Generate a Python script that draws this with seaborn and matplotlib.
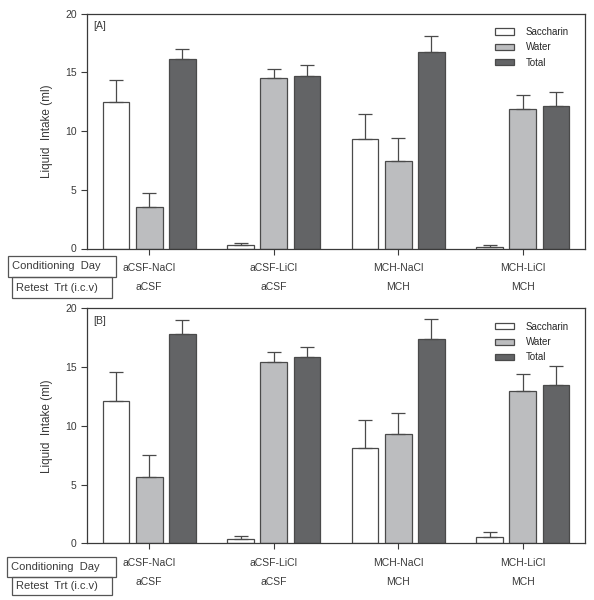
import numpy as np
import pandas as pd
import matplotlib
matplotlib.use("Agg")
import matplotlib.pyplot as plt
import seaborn as sns
from matplotlib.patches import Rectangle

conditioning = ["aCSF-NaCl", "aCSF-LiCl", "MCH-NaCl", "MCH-LiCl"]
retest = ["aCSF", "aCSF", "MCH", "MCH"]
fluids = ["Saccharin", "Water", "Total"]
colors = ["#ffffff", "#bcbdbf", "#636466"]

# panel A: means and upper error (ml)
a_saccharin = [12.45, 0.26, 9.3, 0.17]
a_water = [3.56, 14.48, 7.45, 11.9]
a_total = [16.1, 14.68, 16.73, 12.1]
a_saccharin_err = [1.86, 0.2, 2.17, 0.17]
a_water_err = [1.13, 0.8, 1.94, 1.17]
a_total_err = [0.9, 0.91, 1.39, 1.22]

# panel B
b_saccharin = [12.12, 0.37, 8.11, 0.57]
b_water = [5.66, 15.45, 9.3, 12.92]
b_total = [17.84, 15.82, 17.41, 13.49]
b_saccharin_err = [2.42, 0.28, 2.42, 0.43]
b_water_err = [1.85, 0.85, 1.77, 1.5]
b_total_err = [1.16, 0.88, 1.71, 1.62]

sns.set_style("ticks")
plt.rcParams["font.family"] = ["Liberation Sans", "DejaVu Sans"]

ink = "#3a3a3a"


def draw_panel(ax, means, errs, tag):
    df = pd.DataFrame({
        "group": conditioning * 3,
        "fluid": np.repeat(fluids, 4),
        "intake": np.concatenate(means),
    })
    sns.barplot(data=df, x="group", y="intake", hue="fluid", order=conditioning,
                hue_order=fluids, palette=colors, edgecolor="#4a4a4a", linewidth=0.9,
                width=0.8, gap=0.2, errorbar=None, ax=ax)
    for cont, err in zip(ax.containers, errs):
        xs = [p.get_x() + p.get_width() / 2 for p in cont]
        hs = [p.get_height() for p in cont]
        ax.errorbar(xs, hs, yerr=[np.zeros(len(err)), err], fmt="none",
                    ecolor="#4a4a4a", elinewidth=0.9, capsize=5, capthick=0.9)
    ax.set_ylim(0, 20)
    ax.set_xlim(-0.5, 3.5)
    ax.set_yticks([0, 5, 10, 15, 20])
    ax.set_xticks(range(4))
    ax.set_xticklabels([f"{c}\n{r}" for c, r in zip(conditioning, retest)],
                       linespacing=2.1)
    ax.tick_params(axis="both", labelsize=7.5, colors=ink, length=4, width=0.8)
    ax.tick_params(axis="x", pad=6.5)
    for s in ax.spines.values():
        s.set_color(ink)
        s.set_linewidth(0.9)
    ax.set_xlabel("")
    ax.set_ylabel("Liquid  Intake (ml)", fontsize=8.5, color=ink)
    ax.yaxis.set_label_coords(-0.068, 0.5)
    handles, labels = ax.get_legend_handles_labels()
    ax.legend(handles, labels, frameon=False, loc="upper right", fontsize=7,
              handlelength=2.0, handleheight=0.6, labelspacing=0.55,
              handletextpad=1.2, bbox_to_anchor=(0.985, 0.98))
    ax.text(0.012, 0.945, tag, transform=ax.transAxes, fontsize=7.5,
            color=ink, va="center", ha="left")


fig = plt.figure(figsize=(5.94, 6.0), dpi=100)
ax_a = fig.add_axes([87 / 594, 1 - 248.5 / 600, 498 / 594, 235 / 600])
ax_b = fig.add_axes([87 / 594, 1 - 543.3 / 600, 498 / 594, 235 / 600])

draw_panel(ax_a, [a_saccharin, a_water, a_total],
           [a_saccharin_err, a_water_err, a_total_err], "[A]")
draw_panel(ax_b, [b_saccharin, b_water, b_total],
           [b_saccharin_err, b_water_err, b_total_err], "[B]")


def row_box(x0, x1, y0, y1, text):
    fig.add_artist(Rectangle((x0 / 594, 1 - y1 / 600), (x1 - x0) / 594,
                             (y1 - y0) / 600, transform=fig.transFigure,
                             fill=False, edgecolor="#555555", linewidth=0.9))
    fig.text((x0 + 4) / 594, 1 - (y0 + y1) / 2 / 600, text, fontsize=8,
             color=ink, va="center", ha="left")


row_box(8, 116, 256, 277, "Conditioning  Day")
row_box(12, 112, 277, 298, "Retest  Trt (i.c.v)")
row_box(7, 116, 557, 577, "Conditioning  Day")
row_box(12, 112, 577, 595, "Retest  Trt (i.c.v)")

fig.savefig("out.png", dpi=100, facecolor="white")
